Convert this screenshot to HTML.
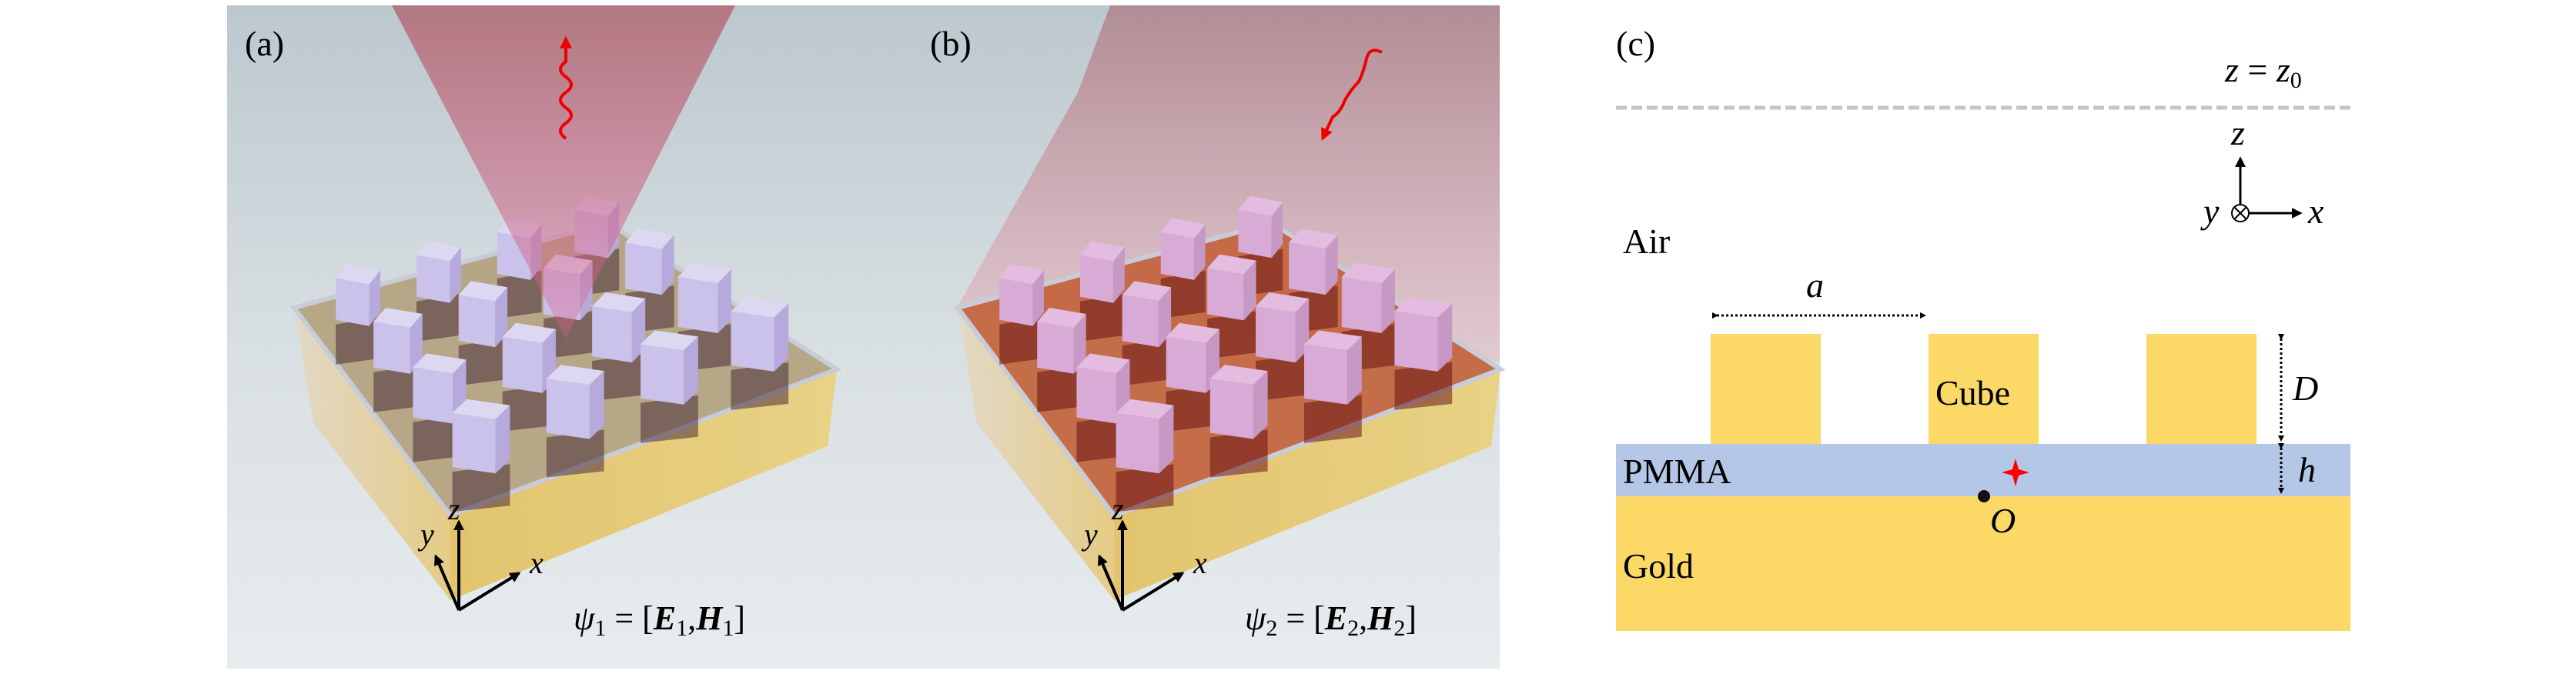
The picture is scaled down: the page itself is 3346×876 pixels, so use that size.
<!DOCTYPE html>
<html><head><meta charset="utf-8"><style>
html,body{margin:0;padding:0;background:#fff;}
svg{display:block}
svg text{font-family:'Liberation Serif','DejaVu Serif',serif;}
</style></head><body>
<svg id="s" width="3346" height="876" viewBox="0 0 3346 876" xmlns="http://www.w3.org/2000/svg" font-family="'Liberation Serif', 'DejaVu Serif', serif">
<defs>
<linearGradient id="bg" x1="0" y1="0" x2="0" y2="1"><stop offset="0" stop-color="#bcc8ce"/><stop offset="0.5" stop-color="#d8dfe2"/><stop offset="1" stop-color="#e8ecee"/></linearGradient>
<linearGradient id="beamA" x1="0" y1="0" x2="0" y2="1"><stop offset="0" stop-color="#b06a72" stop-opacity="0.85"/><stop offset="1" stop-color="#e06090" stop-opacity="0.35"/></linearGradient>
<linearGradient id="beamB" x1="0" y1="0" x2="0" y2="1"><stop offset="0" stop-color="#b08a92" stop-opacity="0.95"/><stop offset="1" stop-color="#eaa8b4" stop-opacity="0.4"/></linearGradient>
<linearGradient id="side" x1="0" y1="0" x2="1" y2="0"><stop offset="0" stop-color="#e2d8c6"/><stop offset="1" stop-color="#e5cc86"/></linearGradient>
<linearGradient id="right" x1="0" y1="0" x2="1" y2="0"><stop offset="0" stop-color="#e2c46e"/><stop offset="1" stop-color="#e8d285"/></linearGradient>
<marker id="ah" markerWidth="8" markerHeight="8" refX="6" refY="4" orient="auto" markerUnits="userSpaceOnUse"><path d="M0,0 L8,4 L0,8 z" fill="#000"/></marker>
<marker id="ah2" viewBox="0 0 10 10" markerWidth="14" markerHeight="14" refX="8" refY="5" orient="auto" markerUnits="userSpaceOnUse"><path d="M0,0 L10,5 L0,10 z" fill="#000"/></marker>
<marker id="ahr" viewBox="0 0 10 10" markerWidth="16" markerHeight="16" refX="8" refY="5" orient="auto" markerUnits="userSpaceOnUse"><path d="M0,0 L10,5 L0,10 z" fill="#e00"/></marker>
</defs>
<rect x="295" y="7" width="1653" height="862" fill="url(#bg)"/>
<g id="scene"></g>
<g>
<text x="318" y="72" font-size="46">(a)</text>
<text x="1208" y="72" font-size="46">(b)</text>
<text x="745" y="818" font-size="44" font-style="italic">ψ<tspan font-size="30" dy="8" font-style="normal">1</tspan><tspan dy="-8" font-style="normal"> = [</tspan><tspan font-weight="bold">E</tspan><tspan font-size="30" dy="8" font-style="normal">1</tspan><tspan dy="-8" font-style="normal">,</tspan><tspan font-weight="bold">H</tspan><tspan font-size="30" dy="8" font-style="normal">1</tspan><tspan dy="-8" font-style="normal">]</tspan></text>
<text x="1617" y="818" font-size="44" font-style="italic">ψ<tspan font-size="30" dy="8" font-style="normal">2</tspan><tspan dy="-8" font-style="normal"> = [</tspan><tspan font-weight="bold">E</tspan><tspan font-size="30" dy="8" font-style="normal">2</tspan><tspan dy="-8" font-style="normal">,</tspan><tspan font-weight="bold">H</tspan><tspan font-size="30" dy="8" font-style="normal">2</tspan><tspan dy="-8" font-style="normal">]</tspan></text>

<text x="2099" y="72" font-size="46">(c)</text>
<text x="2890" y="106" font-size="46" font-style="italic">z <tspan font-style="normal">=</tspan> z<tspan font-size="30" dy="8" font-style="normal">0</tspan></text>
<line x1="2099" y1="140" x2="3053" y2="140" stroke="#c4c4c4" stroke-width="5" stroke-dasharray="14,6"/>
<line x1="2910" y1="265" x2="2910" y2="206" stroke="#000" stroke-width="3" marker-end="url(#ah2)"/>
<line x1="2922" y1="277" x2="2988" y2="277" stroke="#000" stroke-width="3" marker-end="url(#ah2)"/>
<circle cx="2910" cy="277" r="11" fill="#fff" stroke="#000" stroke-width="2"/>
<path d="M2902,269 L2918,285 M2918,269 L2902,285" stroke="#000" stroke-width="2"/>
<text x="2898" y="188" font-size="46" font-style="italic">z</text>
<text x="2998" y="290" font-size="46" font-style="italic">x</text>
<text x="2862" y="290" font-size="46" font-style="italic">y</text>
<text x="2108" y="329" font-size="46">Air</text>
<rect x="2099" y="645" width="954" height="175" fill="#fcd867"/>
<rect x="2099" y="577" width="954" height="68" fill="#b4c7e6"/>
<rect x="2222" y="434" width="143" height="143" fill="#fcd867"/>
<rect x="2505" y="434" width="143" height="143" fill="#fcd867"/>
<rect x="2788" y="434" width="143" height="143" fill="#fcd867"/>
<text x="2514" y="526" font-size="46">Cube</text>
<text x="2108" y="628" font-size="46">PMMA</text>
<text x="2108" y="751" font-size="46">Gold</text>
<line x1="2230" y1="410" x2="2500" y2="410" stroke="#000" stroke-width="3" stroke-dasharray="3,3" marker-end="url(#ah)" marker-start="url(#ah)"/>
<text x="2346" y="386" font-size="46" font-style="italic">a</text>
<line x1="2963" y1="440" x2="2963" y2="572" stroke="#000" stroke-width="3" stroke-dasharray="3,3" marker-end="url(#ah)" marker-start="url(#ah)"/>
<line x1="2963" y1="582" x2="2963" y2="640" stroke="#000" stroke-width="3" stroke-dasharray="3,3" marker-end="url(#ah)" marker-start="url(#ah)"/>
<text x="2978" y="520" font-size="46" font-style="italic">D</text>
<text x="2985" y="626" font-size="46" font-style="italic">h</text>
<path d="M2618,596 L2622,610 L2636,614 L2622,618 L2618,632 L2614,618 L2600,614 L2614,610 z" fill="#f00"/>
<circle cx="2577" cy="645" r="8" fill="#111"/>
<text x="2585" y="692" font-size="46" font-style="italic">O</text>
</g>
<script>
var g=document.getElementById('scene'),NS='http://www.w3.org/2000/svg';
function el(t,a){var e=document.createElementNS(NS,t);for(var k in a)e.setAttribute(k,a[k]);g.appendChild(e);return e;}
function pts(a){return a.map(function(p){return p[0].toFixed(1)+','+p[1].toFixed(1)}).join(' ');}
function slab(dx,mode){
 var F=[585+dx,670],R=[1087+dx,480],L=[382+dx,400],B=[790+dx,290];
 var H=110;
 if(mode==2) el('polygon',{points:pts([[1442,7],[1948,7],[1948,470],[1243,400],[1400,120]]),fill:'url(#beamB)'});
 el('polygon',{points:pts([L,F,[F[0],F[1]+H],[L[0]+25,L[1]+H+40]]),fill:'url(#side)'});
 el('polygon',{points:pts([F,R,[R[0]-12,R[1]+H-10],[F[0],F[1]+H]]),fill:'url(#right)'});
 el('polygon',{points:pts([L,B,R,F]),fill:mode==1?'#b3a27e':'#c2633c','fill-opacity':0.92,stroke:'#c8ccd8','stroke-width':6});
 function P(u,v){return [F[0]+u*(R[0]-F[0])+v*(L[0]-F[0])+u*v*(B[0]-L[0]-R[0]+F[0]),F[1]+u*(R[1]-F[1])+v*(L[1]-F[1])+u*v*(B[1]-L[1]-R[1]+F[1])];}
 var us=[0.14,0.39,0.64,0.88];
 for(var vi=3;vi>=0;vi--)for(var ui=3;ui>=0;ui--){
  var c=P(us[ui],us[vi]);var s=0.85+0.25*(1-vi/3);var w=34*s,h=64*s,d=17*s;
  el('polygon',{points:pts([[c[0]-w,c[1]+6],[c[0]+w,c[1]-4],[c[0]+w,c[1]+50],[c[0]-w,c[1]+58]]),fill:mode==1?'#4a2e3a':'#6a1414','fill-opacity':0.55});
  var col=mode==1?['#dcd8f2','#cac2ea','#b6aadc']:['#e4bce0','#d8aad6','#c698c4'];
  var a=[c[0]-w,c[1]-h],b=[c[0]+w-d,c[1]-h+8],e=[c[0]+w,c[1]-h-10],f=[c[0]-w+d,c[1]-h-18];
  el('polygon',{points:pts([a,b,[b[0],c[1]+8],[a[0],c[1]]]),fill:col[1]});
  el('polygon',{points:pts([b,e,[e[0],c[1]-10],[b[0],c[1]+8]]),fill:col[2]});
  el('polygon',{points:pts([a,f,e,b]),fill:col[0]});
 }
 if(mode==1) el('polygon',{points:pts([[509,7],[955,7],[735,440]]),fill:'url(#beamA)'});
 var o=[596+dx,793];
 el('line',{x1:o[0],y1:o[1],x2:o[0],y2:o[1]-115,stroke:'#000','stroke-width':4,'marker-end':'url(#ah2)'});
 el('line',{x1:o[0],y1:o[1],x2:o[0]-30,y2:o[1]-70,stroke:'#000','stroke-width':4,'marker-end':'url(#ah2)'});
 el('line',{x1:o[0],y1:o[1],x2:o[0]+78,y2:o[1]-48,stroke:'#000','stroke-width':4,'marker-end':'url(#ah2)'});
 var t;t=el('text',{x:o[0]-14,y:o[1]-118,'font-size':40,'font-style':'italic'});t.textContent='z';
 t=el('text',{x:o[0]-50,y:o[1]-85,'font-size':40,'font-style':'italic'});t.textContent='y';
 t=el('text',{x:o[0]+92,y:o[1]-48,'font-size':40,'font-style':'italic'});t.textContent='x';
}
slab(0,1);slab(862,2);
el('path',{d:'M735,180 q-14,-10 0,-20 q14,-10 0,-20 q-14,-10 0,-20 q14,-10 0,-20 q-14,-10 0,-20 L735,50',fill:'none',stroke:'#e00','stroke-width':4,'marker-end':'url(#ahr)'});
el('path',{d:'M1795,68 q-16,-8 -20,8 q-4,18 -10,30 q-10,10 -18,24 q-6,16 -16,22 L1718,180',fill:'none',stroke:'#e00','stroke-width':4,'marker-end':'url(#ahr)'});
</script>
</svg>
</body></html>
